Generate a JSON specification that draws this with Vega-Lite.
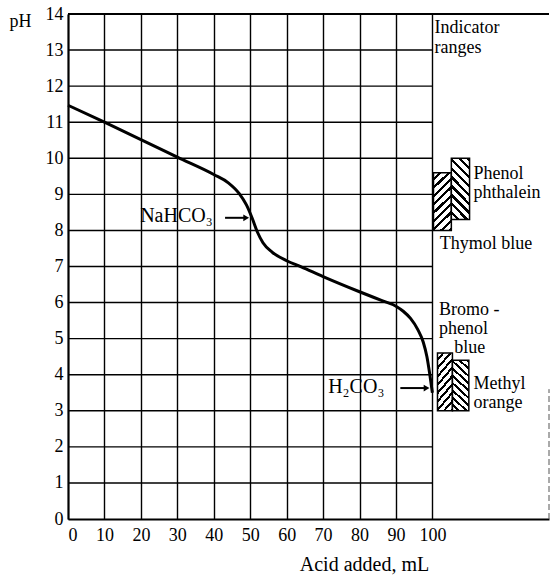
{
  "$schema": "https://vega.github.io/schema/vega-lite/v6.json",
  "width": 481,
  "height": 505,
  "autosize": "none",
  "padding": {"left": 68, "top": 14, "right": 1, "bottom": 57},
  "background": "white",
  "config": {
    "view": {"stroke": null},
    "font": "Liberation Serif",
    "axis": {"labelFont": "Liberation Serif", "titleFont": "Liberation Serif", "labelColor": "black", "titleColor": "black", "titleFontWeight": "normal", "labelOverlap": false},
    "axisY": {"values": [0,1,2,3,4,5,6,7,8,9,10,11,12,13,14], "labelOverlap": false, "grid": false, "ticks": false, "domainColor": "black", "domainWidth": 2,
              "labelFontSize": 18, "labelPadding": 5, "titleFontSize": 18, "titleAngle": 0,
              "titleX": -48, "titleY": 7, "titleAlign": "center", "titleBaseline": "middle"}
  },
  "datasets": {
    "curve": [
      {"acid": 0, "ph": 11.47},
      {"acid": 10, "ph": 11.0},
      {"acid": 20, "ph": 10.52},
      {"acid": 30, "ph": 10.03},
      {"acid": 40, "ph": 9.55},
      {"acid": 44, "ph": 9.32},
      {"acid": 47, "ph": 9.02},
      {"acid": 49, "ph": 8.7},
      {"acid": 50.5, "ph": 8.35},
      {"acid": 52, "ph": 7.95},
      {"acid": 53.5, "ph": 7.66},
      {"acid": 56, "ph": 7.4},
      {"acid": 60, "ph": 7.16},
      {"acid": 64, "ph": 6.99},
      {"acid": 70, "ph": 6.72},
      {"acid": 80, "ph": 6.3},
      {"acid": 86, "ph": 6.06},
      {"acid": 90, "ph": 5.9},
      {"acid": 92, "ph": 5.76},
      {"acid": 94, "ph": 5.56},
      {"acid": 96, "ph": 5.25},
      {"acid": 97.5, "ph": 4.9},
      {"acid": 98.5, "ph": 4.5},
      {"acid": 99.3, "ph": 4.0},
      {"acid": 100, "ph": 3.5}
    ],
    "hgrid": [
      {"ph": 1}, {"ph": 2}, {"ph": 3}, {"ph": 4}, {"ph": 5}, {"ph": 6}, {"ph": 7},
      {"ph": 8}, {"ph": 9}, {"ph": 10}, {"ph": 11}, {"ph": 12}, {"ph": 13}
    ],
    "fwd": [
      {"indicator": "Thymol blue", "x0": 100.3, "x1": 105.2, "lo": 8.0, "hi": 9.6},
      {"indicator": "Bromophenol blue", "x0": 101.4, "x1": 105.5, "lo": 3.0, "hi": 4.6}
    ],
    "back": [
      {"indicator": "Phenolphthalein", "x0": 105.2, "x1": 110.2, "lo": 8.3, "hi": 10.0},
      {"indicator": "Methyl orange", "x0": 105.5, "x1": 110.0, "lo": 3.0, "hi": 4.4}
    ],
    "labels": [
      {"x": 100.6, "y": 13.6, "text": "Indicator"},
      {"x": 100.6, "y": 13.07, "text": "ranges"},
      {"x": 111.3, "y": 9.56, "text": "Phenol"},
      {"x": 111.3, "y": 9.03, "text": "phthalein"},
      {"x": 102.0, "y": 7.62, "text": "Thymol blue"},
      {"x": 101.8, "y": 5.8, "text": "Bromo -"},
      {"x": 101.8, "y": 5.27, "text": "phenol"},
      {"x": 106.0, "y": 4.74, "text": "blue"},
      {"x": 111.3, "y": 3.74, "text": "Methyl"},
      {"x": 111.3, "y": 3.21, "text": "orange"}
    ],
    "chem": [
      {"x": 19.8, "y": 8.4, "text": "NaHCO₃"},
      {"x": 71.4, "y": 3.66, "text": "H₂CO₃"}
    ],
    "arrows": [
      {"from": 43.1, "to": 48.6, "head": 48.9, "y": 8.35},
      {"from": 91.2, "to": 98.1, "head": 98.4, "y": 3.63}
    ]
  },
  "layer": [
    {
      "data": {"name": "hgrid"},
      "mark": {"type": "rule", "color": "black", "strokeWidth": 1.4},
      "encoding": {
        "y": {"field": "ph", "type": "quantitative", "scale": {"domain": [0, 14], "nice": false},
              "axis": {"values": [0,1,2,3,4,5,6,7,8,9,10,11,12,13,14], "labelOverlap": false, "title": "pH"}},
        "x": {"datum": 0, "type": "quantitative", "scale": {"domain": [0, 132], "nice": false},
              "axis": {"values": [0,10,20,30,40,50,60,70,80,90,100], "labelOverlap": false, "grid": true, "gridColor": "black", "gridWidth": 1.4, "gridOpacity": 1,
                       "ticks": false, "domainColor": "black", "domainWidth": 2, "labelFontSize": 18, "labelPadding": 7,
                       "title": "Acid added,  mL", "titleFontSize": 20, "titleX": 296, "titleY": 45, "titleAlign": "center", "titleBaseline": "middle"}},
        "x2": {"datum": 100}
      }
    },
    {
      "data": {"values": [{"ph": 14}]},
      "mark": {"type": "rule", "color": "black", "strokeWidth": 2},
      "encoding": {
        "y": {"field": "ph", "type": "quantitative", "axis": {"values": [0,1,2,3,4,5,6,7,8,9,10,11,12,13,14], "labelOverlap": false, "title": "pH"}},
        "x": {"datum": 0, "type": "quantitative"},
        "x2": {"datum": 132}
      }
    },
    {
      "data": {"values": [{"edge": 132, "lo": 0, "hi": 3.6}]},
      "mark": {"type": "rule", "color": "#555", "strokeWidth": 1, "strokeDash": [6, 3]},
      "encoding": {
        "x": {"field": "edge", "type": "quantitative"},
        "y": {"field": "lo", "type": "quantitative", "axis": {"values": [0,1,2,3,4,5,6,7,8,9,10,11,12,13,14], "labelOverlap": false, "title": "pH"}},
        "y2": {"field": "hi"}
      }
    },
    {
      "data": {"name": "curve"},
      "mark": {"type": "line", "color": "black", "strokeWidth": 3, "interpolate": "monotone"},
      "encoding": {
        "x": {"field": "acid", "type": "quantitative"},
        "y": {"field": "ph", "type": "quantitative", "axis": {"values": [0,1,2,3,4,5,6,7,8,9,10,11,12,13,14], "labelOverlap": false, "title": "pH"}}
      }
    },
    {
      "data": {"name": "fwd"},
      "mark": {"type": "rect", "stroke": "black", "strokeWidth": 1.5,
        "fill": {"gradient": "linear", "x1": 0, "y1": 0, "x2": 0.358, "y2": 1.193, "stops": [
          {"offset": 0, "color": "white"}, {"offset": 0.069, "color": "white"}, {"offset": 0.069, "color": "black"}, {"offset": 0.111, "color": "black"},
          {"offset": 0.111, "color": "white"}, {"offset": 0.180, "color": "white"}, {"offset": 0.180, "color": "black"}, {"offset": 0.222, "color": "black"},
          {"offset": 0.222, "color": "white"}, {"offset": 0.291, "color": "white"}, {"offset": 0.291, "color": "black"}, {"offset": 0.333, "color": "black"},
          {"offset": 0.333, "color": "white"}, {"offset": 0.402, "color": "white"}, {"offset": 0.402, "color": "black"}, {"offset": 0.444, "color": "black"},
          {"offset": 0.444, "color": "white"}, {"offset": 0.513, "color": "white"}, {"offset": 0.513, "color": "black"}, {"offset": 0.556, "color": "black"},
          {"offset": 0.556, "color": "white"}, {"offset": 0.624, "color": "white"}, {"offset": 0.624, "color": "black"}, {"offset": 0.667, "color": "black"},
          {"offset": 0.667, "color": "white"}, {"offset": 0.736, "color": "white"}, {"offset": 0.736, "color": "black"}, {"offset": 0.778, "color": "black"},
          {"offset": 0.778, "color": "white"}, {"offset": 0.847, "color": "white"}, {"offset": 0.847, "color": "black"}, {"offset": 0.889, "color": "black"},
          {"offset": 0.889, "color": "white"}, {"offset": 0.958, "color": "white"}, {"offset": 0.958, "color": "black"}, {"offset": 1, "color": "black"}
        ]}},
      "encoding": {
        "x": {"field": "x0", "type": "quantitative"},
        "x2": {"field": "x1"},
        "y": {"field": "lo", "type": "quantitative", "axis": {"values": [0,1,2,3,4,5,6,7,8,9,10,11,12,13,14], "labelOverlap": false, "title": "pH"}},
        "y2": {"field": "hi"}
      }
    },
    {
      "data": {"name": "back"},
      "mark": {"type": "rect", "stroke": "black", "strokeWidth": 1.5,
        "fill": {"gradient": "linear", "x1": 0, "y1": 1, "x2": 0.358, "y2": -0.193, "stops": [
          {"offset": 0, "color": "white"}, {"offset": 0.069, "color": "white"}, {"offset": 0.069, "color": "black"}, {"offset": 0.111, "color": "black"},
          {"offset": 0.111, "color": "white"}, {"offset": 0.180, "color": "white"}, {"offset": 0.180, "color": "black"}, {"offset": 0.222, "color": "black"},
          {"offset": 0.222, "color": "white"}, {"offset": 0.291, "color": "white"}, {"offset": 0.291, "color": "black"}, {"offset": 0.333, "color": "black"},
          {"offset": 0.333, "color": "white"}, {"offset": 0.402, "color": "white"}, {"offset": 0.402, "color": "black"}, {"offset": 0.444, "color": "black"},
          {"offset": 0.444, "color": "white"}, {"offset": 0.513, "color": "white"}, {"offset": 0.513, "color": "black"}, {"offset": 0.556, "color": "black"},
          {"offset": 0.556, "color": "white"}, {"offset": 0.624, "color": "white"}, {"offset": 0.624, "color": "black"}, {"offset": 0.667, "color": "black"},
          {"offset": 0.667, "color": "white"}, {"offset": 0.736, "color": "white"}, {"offset": 0.736, "color": "black"}, {"offset": 0.778, "color": "black"},
          {"offset": 0.778, "color": "white"}, {"offset": 0.847, "color": "white"}, {"offset": 0.847, "color": "black"}, {"offset": 0.889, "color": "black"},
          {"offset": 0.889, "color": "white"}, {"offset": 0.958, "color": "white"}, {"offset": 0.958, "color": "black"}, {"offset": 1, "color": "black"}
        ]}},
      "encoding": {
        "x": {"field": "x0", "type": "quantitative"},
        "x2": {"field": "x1"},
        "y": {"field": "lo", "type": "quantitative", "axis": {"values": [0,1,2,3,4,5,6,7,8,9,10,11,12,13,14], "labelOverlap": false, "title": "pH"}},
        "y2": {"field": "hi"}
      }
    },
    {
      "data": {"name": "labels"},
      "mark": {"type": "text", "align": "left", "baseline": "middle", "fontSize": 18, "font": "Liberation Serif", "color": "black"},
      "encoding": {
        "x": {"field": "x", "type": "quantitative"},
        "y": {"field": "y", "type": "quantitative", "axis": {"values": [0,1,2,3,4,5,6,7,8,9,10,11,12,13,14], "labelOverlap": false, "title": "pH"}},
        "text": {"field": "text"}
      }
    },
    {
      "data": {"name": "chem"},
      "mark": {"type": "text", "align": "left", "baseline": "middle", "fontSize": 20, "font": "Liberation Serif", "color": "black"},
      "encoding": {
        "x": {"field": "x", "type": "quantitative"},
        "y": {"field": "y", "type": "quantitative", "axis": {"values": [0,1,2,3,4,5,6,7,8,9,10,11,12,13,14], "labelOverlap": false, "title": "pH"}},
        "text": {"field": "text"}
      }
    },
    {
      "data": {"name": "arrows"},
      "mark": {"type": "rule", "color": "black", "strokeWidth": 2},
      "encoding": {
        "x": {"field": "from", "type": "quantitative"},
        "x2": {"field": "to"},
        "y": {"field": "y", "type": "quantitative", "axis": {"values": [0,1,2,3,4,5,6,7,8,9,10,11,12,13,14], "labelOverlap": false, "title": "pH"}}
      }
    },
    {
      "data": {"name": "arrows"},
      "mark": {"type": "point", "shape": "triangle-right", "filled": true, "color": "black", "opacity": 1, "size": 45},
      "encoding": {
        "x": {"field": "head", "type": "quantitative"},
        "y": {"field": "y", "type": "quantitative", "axis": {"values": [0,1,2,3,4,5,6,7,8,9,10,11,12,13,14], "labelOverlap": false, "title": "pH"}}
      }
    }
  ]
}
